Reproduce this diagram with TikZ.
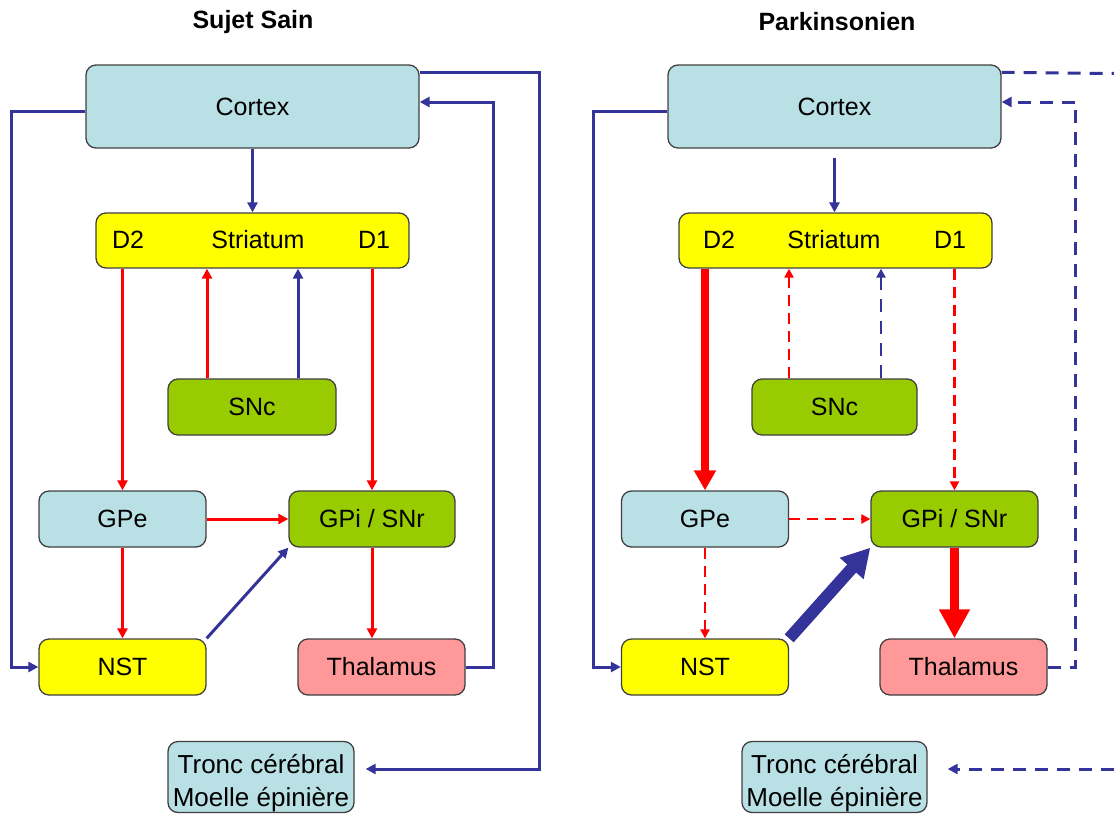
\documentclass[tikz,border=0pt]{standalone}
\usepackage{fontspec}
\setmainfont{Liberation Sans}
\usetikzlibrary{arrows.meta}
\definecolor{ctxfill}{RGB}{185,224,228}
\definecolor{stryellow}{RGB}{255,255,0}
\definecolor{sncgreen}{RGB}{153,204,0}
\definecolor{thalpink}{RGB}{255,153,153}
\definecolor{glublue}{RGB}{51,51,153}
\definecolor{gabared}{RGB}{255,0,0}
\definecolor{edgegray}{RGB}{64,64,64}

\begin{document}
\begin{tikzpicture}[
    x=1pt, y=-1pt,
    area/.style={draw=edgegray, line width=1.3pt, rounded corners=10pt,
                 minimum width=167pt, minimum height=56pt, inner sep=0pt,
                 align=center, font=\fontsize{25}{33}\selectfont},
    trunk/.style={area, fill=ctxfill, minimum height=71pt,
                  font=\fontsize{26}{33}\selectfont},
    lbl/.style={inner sep=0pt, font=\fontsize{25}{33}\selectfont},
    ttl/.style={inner sep=0pt, font=\fontsize{25}{30}\selectfont\bfseries},
    exc/.style={draw=glublue, line width=3pt,
                -{Triangle[length=10pt,width=10pt]}},
    inh/.style={draw=gabared, line width=3pt,
                -{Triangle[length=10pt,width=10pt]}},
    excd/.style={exc, dash pattern=on 13pt off 9pt},
    inhd/.style={inh, line width=2.5pt, dash pattern=on 11pt off 7pt,
                 -{Triangle[length=9pt,width=9pt]}}
  ]
  \useasboundingbox (0,0) rectangle (1114,814);

  % Sujet Sain
  \node[ttl] (titleL) at (253,22) {Sujet Sain};
  \node[area, fill=ctxfill, minimum width=333pt, minimum height=83pt] (ctxL) at (252.5,106.5) {Cortex};
  \node[area, fill=stryellow, minimum width=313pt, minimum height=55pt] (strL) at (252.5,240.5) {};
  \node[lbl] (d2L) at (128,240) {D2};
  \node[lbl] (sL) at (258,240) {Striatum};
  \node[lbl] (d1L) at (374,240) {D1};
  \node[area, fill=sncgreen, minimum width=168pt] (sncL) at (252,407) {SNc};
  \node[area, fill=ctxfill] (gpeL) at (122.5,519) {GPe};
  \node[area, fill=sncgreen, minimum width=166pt] (gpiL) at (372,519) {GPi / SNr};
  \node[area, fill=stryellow] (nstL) at (122.5,667) {NST};
  \node[area, fill=thalpink] (thalL) at (381.5,667) {Thalamus};
  \node[trunk, minimum width=186pt] (tronL) at (261,777)
       {\rule{0pt}{32pt}Tronc cérébral\\Moelle épinière};

  \draw[exc] (ctxL.south) -- (strL.north);
  \draw[exc] ([yshift=-4.5pt]ctxL.west) -- ++(-74,0) |- (nstL.west);
  \draw[exc, shorten >=11pt] ([yshift=-8pt]ctxL.north east) -- ++(120,0) |- ([yshift=8pt]tronL.east);
  \draw[exc] (thalL.east) -- ++(28,0) |- ([yshift=4.5pt]ctxL.east);
  \draw[inh] (strL.south -| gpeL.north) -- (gpeL.north);
  \draw[inh] (strL.south -| gpiL.north) -- (gpiL.north);
  \draw[inh] ([xshift=-45pt]sncL.north) -- ([xshift=-45pt]sncL.north |- strL.south);
  \draw[exc] ([xshift=46pt]sncL.north) -- ([xshift=46pt]sncL.north |- strL.south);
  \draw[inh] (gpeL) -- (gpiL);
  \draw[inh] (gpeL) -- (nstL);
  \draw[inh] (gpiL.south) -- (gpiL.south |- thalL.north);
  \draw[exc] (nstL.north east) -- (gpiL.south west);

  % Parkinsonien
  \node[ttl] (titleR) at (837,22) {Parkinsonien};
  \node[area, fill=ctxfill, minimum width=333pt, minimum height=83pt] (ctxR) at (834.5,106.5) {Cortex};
  \node[area, fill=stryellow, minimum width=313pt, minimum height=55pt] (strR) at (835.5,240.5) {};
  \node[lbl] (d2R) at (719,240) {D2};
  \node[lbl] (sR) at (834,240) {Striatum};
  \node[lbl] (d1R) at (950,240) {D1};
  \node[area, fill=sncgreen, minimum width=165pt] (sncR) at (834.5,407) {SNc};
  \node[area, fill=ctxfill] (gpeR) at (705,519) {GPe};
  \node[area, fill=sncgreen] (gpiR) at (954.5,519) {GPi / SNr};
  \node[area, fill=stryellow] (nstR) at (705,667) {NST};
  \node[area, fill=thalpink] (thalR) at (963.5,667) {Thalamus};
  \node[trunk, minimum width=185pt] (tronR) at (834.5,777)
       {\rule{0pt}{32pt}Tronc cérébral\\Moelle épinière};
  \coordinate (outTop) at (1114,73.5);
  \coordinate (outBot) at (1114,769);

  \draw[exc, shorten <=9pt] (ctxR.south) -- (ctxR.south |- strR.north);
  \draw[exc] ([yshift=-4.5pt]ctxR.west) -- ++(-74,0) |- (nstR.west);
  \draw[excd, -] ([yshift=-8pt]ctxR.north east) -- (outTop);
  \draw[excd] (thalR.east) -- ++(28,0) |- ([yshift=4.5pt]ctxR.east);
  \draw[excd, shorten >=20pt] (outBot) -- ([yshift=8pt]tronR.east);
  \draw[inh, line width=8pt, -{Triangle[length=20pt,width=21pt]}] (strR.south -| gpeR.north) -- (gpeR.north);
  \draw[inhd] (strR.south -| gpiR.north) -- (gpiR.north);
  \draw[inhd] ([xshift=-45.5pt]sncR.north) -- ([xshift=-45.5pt]sncR.north |- strR.south);
  \draw[excd, line width=2.5pt, -{Triangle[length=9pt,width=9pt]}] ([xshift=46.5pt]sncR.north) -- ([xshift=46.5pt]sncR.north |- strR.south);
  \draw[inhd] (gpeR) -- (gpiR);
  \draw[inhd] (gpeR) -- (nstR);
  \draw[inh, line width=9pt, -{Triangle[length=29pt,width=29pt]}] (gpiR.south) -- (gpiR.south |- thalR.north);
  \draw[exc, line width=12pt, -{Triangle[length=28pt,width=30pt]}] (nstR.north east) -- (gpiR.south west);
\end{tikzpicture}
\end{document}
